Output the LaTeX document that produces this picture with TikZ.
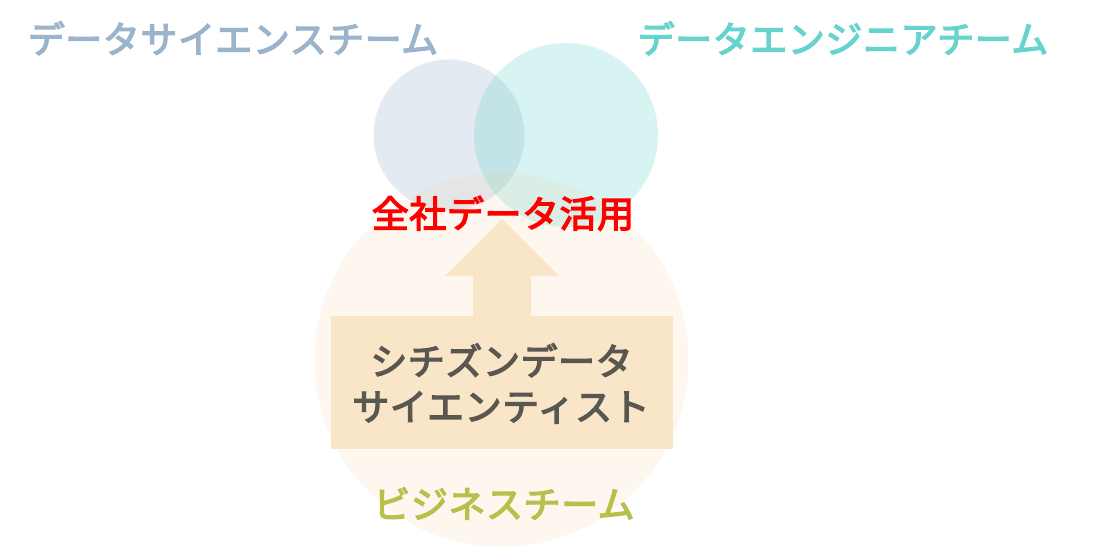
\documentclass[tikz,border=0pt]{standalone}
\usepackage{fontspec}
\setmainfont{Noto Sans CJK JP}[LetterSpace=1.5,FakeBold=3.5]
\definecolor{dscol}{HTML}{9BB4CC}
\definecolor{decol}{HTML}{66D4CC}
\definecolor{bizcol}{HTML}{B8BF4A}
\definecolor{bigcol}{HTML}{F0C890}
\definecolor{boxcol}{HTML}{F9E5C8}
\definecolor{txtgray}{HTML}{595750}
\definecolor{redcol}{HTML}{FF0000}
\begin{document}
\begin{tikzpicture}[x=1pt,y=-1pt,
  lbl/.style={inner sep=0pt, anchor=center, font=\fontsize{37}{42}\selectfont, text height=32.5pt, text depth=4.5pt}]
\useasboundingbox[fill=white] (0,0) rectangle (1113,548);
% circles
\fill[dscol, fill opacity=0.27] (449,135) circle (75.5);
\fill[decol, fill opacity=0.25] (566,135) circle (92);
\fill[bigcol, fill opacity=0.13] (501.5,360) circle (187);
% arrow and box
\fill[boxcol] (473,318) -- (473,276) -- (445,276) -- (502,219) -- (559,276) -- (531,276) -- (531,318) -- cycle;
\node[fill=boxcol, inner sep=0pt, minimum width=342pt, minimum height=133pt] (box) at (502,382.5) {};
% texts
\node[lbl, text=dscol] (ds) at (233,39) {データサイエンスチーム};
\node[lbl, text=decol] (de) at (843,39) {データエンジニアチーム};
\node[lbl, text=redcol] (all) at (503,213.5) {全社データ活用};
\node[lbl, text=txtgray] (c1) at (501.5,361) {シチズンデータ};
\node[lbl, text=txtgray] (c2) at (501,406.5) {サイエンティスト};
\node[lbl, text=bizcol] (biz) at (504,504) {ビジネスチーム};
\end{tikzpicture}
\end{document}
